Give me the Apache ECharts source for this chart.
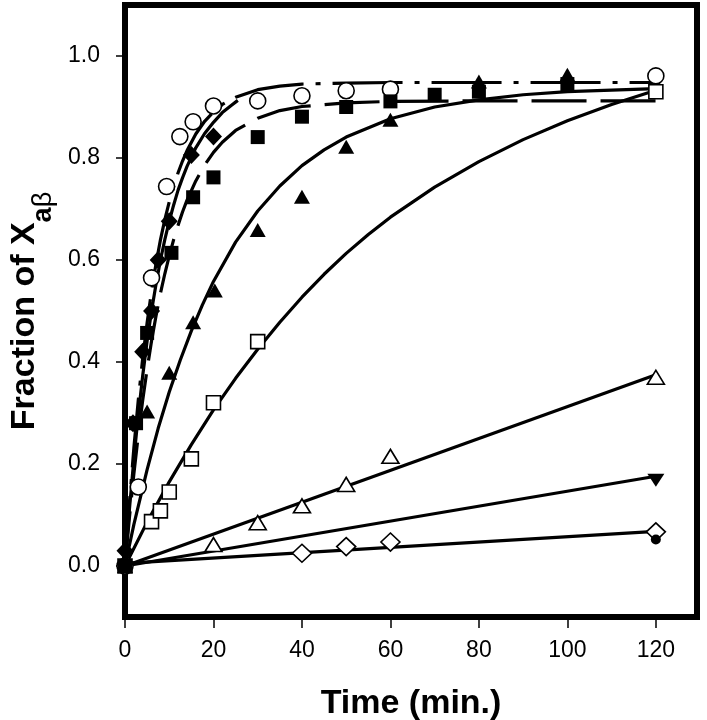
<!DOCTYPE html>
<html>
<head>
<meta charset="utf-8">
<script src="https://cdn.jsdelivr.net/npm/echarts@6/dist/echarts.min.js"></script>
<style>html,body{margin:0;padding:0;background:#fff}#c{width:707px;height:720px}</style>
</head>
<body>
<div id="c"></div>
<script>
// ---- measured points ----
const openCircleT = [0, 3, 6, 9.4, 12.4, 15.4, 20, 30, 40, 50, 60, 120];
const openCircleV = [0, 0.155, 0.565, 0.744, 0.842, 0.871, 0.902, 0.912, 0.922, 0.932, 0.935, 0.961];
const fDiamondT = [0, 1.8, 4, 6, 7.5, 10, 15, 20];
const fDiamondV = [0.03, 0.28, 0.42, 0.50, 0.60, 0.676, 0.806, 0.842];
const fSquareT = [0, 2.5, 5, 10.5, 15.4, 20, 30, 40, 50, 60, 70, 80, 100];
const fSquareV = [0, 0.28, 0.457, 0.614, 0.723, 0.762, 0.841, 0.881, 0.90, 0.911, 0.924, 0.93, 0.945];
const fTriT = [0, 5, 10, 15.4, 20.3, 30, 40, 50, 60, 80, 100];
const fTriV = [0, 0.303, 0.379, 0.478, 0.54, 0.659, 0.724, 0.822, 0.875, 0.95, 0.963];
const openSqT = [0, 6, 8, 10, 15, 20, 30, 120];
const openSqV = [0, 0.087, 0.108, 0.145, 0.21, 0.32, 0.44, 0.93];
const openTriT = [20, 30, 40, 50, 60, 120];
const openTriV = [0.042, 0.085, 0.118, 0.16, 0.215, 0.37];
const invTriT = [120];
const invTriV = [0.168];
const openDiaT = [40, 50, 60, 120];
const openDiaV = [0.025, 0.038, 0.047, 0.067];
const fCircleT = [0, 120];
const fCircleV = [0, 0.052];

// ---- fitted curves ----
const circleFitT = [0, 1, 2, 3, 4, 5, 6, 7, 8, 9, 10, 11, 12, 13, 14, 16, 18, 20, 22, 25, 30, 35, 40, 50, 60, 80, 100, 121];
const circleFitV = [0, 0.124, 0.231, 0.325, 0.407, 0.477, 0.539, 0.592, 0.639, 0.679, 0.714, 0.744, 0.771, 0.794, 0.814, 0.847, 0.872, 0.890, 0.905, 0.919, 0.934, 0.941, 0.945, 0.947, 0.948, 0.948, 0.948, 0.948];
const diamondFitT = [0, 1, 2, 3, 4, 5, 6, 7, 8, 9, 10, 11, 12, 13, 14, 16, 18, 20, 22, 24, 25.5];
const diamondFitV = [0, 0.111, 0.210, 0.296, 0.373, 0.441, 0.500, 0.552, 0.599, 0.640, 0.676, 0.708, 0.737, 0.761, 0.783, 0.820, 0.848, 0.870, 0.889, 0.903, 0.913];
const squareFitT = [0, 1, 2, 3, 4, 5, 6, 7, 8, 9, 10, 11, 12, 13, 14, 16, 18, 20, 22, 25, 30, 35, 40, 50, 60, 80, 100, 121];
const squareFitV = [0, 0.095, 0.180, 0.256, 0.325, 0.386, 0.441, 0.490, 0.534, 0.573, 0.608, 0.640, 0.668, 0.694, 0.717, 0.755, 0.786, 0.811, 0.831, 0.854, 0.878, 0.893, 0.901, 0.908, 0.911, 0.912, 0.912, 0.912];
const triFitT = [0, 2, 5, 7.5, 10, 12.5, 15, 17.5, 20, 25, 30, 35, 40, 45, 50, 60, 70, 80, 90, 100, 110, 120];
const triFitV = [0, 0.081, 0.189, 0.270, 0.341, 0.404, 0.461, 0.512, 0.558, 0.635, 0.696, 0.745, 0.785, 0.816, 0.841, 0.877, 0.900, 0.914, 0.924, 0.930, 0.933, 0.936];
const openSqFitT = [0, 5, 10, 15, 20, 25, 30, 35, 40, 45, 50, 55, 60, 70, 80, 90, 100, 110, 120];
const openSqFitV = [0, 0.086, 0.165, 0.238, 0.306, 0.368, 0.425, 0.478, 0.527, 0.572, 0.613, 0.650, 0.684, 0.743, 0.793, 0.836, 0.873, 0.905, 0.933];
const openTriFitT = [0, 120];
const openTriFitV = [0, 0.375];
const invTriFitT = [0, 120];
const invTriFitV = [0, 0.176];
const openDiaFitT = [0, 120];
const openDiaFitV = [0.005, 0.068];

// ---- ticks ----
const xTicks = [0, 20, 40, 60, 80, 100, 120];
const yTicks = [0, 0.2, 0.4, 0.6, 0.8, 1.0];

const pairs = (t, v) => t.map((x, i) => [x, v[i]]);
const FONT = 'Liberation Sans, Arial, sans-serif';

function fitLine(t, v, dash) {
  return {
    type: 'line', data: pairs(t, v), showSymbol: false, symbol: 'none',
    smooth: false, silent: true, z: 2,
    lineStyle: { color: '#000', width: 3.2, type: dash || 'solid', cap: 'butt', join: 'round', opacity: 1 }
  };
}
function pts(t, v, symbol, size, open, rotate) {
  return {
    type: 'scatter', data: pairs(t, v), symbol: symbol, symbolSize: size,
    symbolRotate: rotate || 0, silent: true, z: 5,
    itemStyle: open
      ? { color: '#fff', borderColor: '#000', borderWidth: 1.6, opacity: 1 }
      : { color: '#000', borderWidth: 0, opacity: 1 }
  };
}

const chart = echarts.init(document.getElementById('c'), null, { renderer: 'canvas' });
chart.setOption({
  animation: false,
  backgroundColor: '#fff',
  grid: { left: 125, right: 10, top: 5, bottom: 103, containLabel: false, outerBoundsMode: 'none', show: true, borderColor: '#000', borderWidth: 6, backgroundColor: 'transparent' },
  xAxis: {
    type: 'value', min: 0, max: 129.3,
    axisLine: { show: false, onZero: false },
    splitLine: { show: false },
    axisTick: { show: true, inside: false, length: 11, lineStyle: { color: '#000', width: 1.5 }, customValues: xTicks },
    axisLabel: { customValues: xTicks, margin: 22, fontSize: 23, color: '#000', fontFamily: FONT, formatter: v => String(v) },
    name: 'Time (min.)', nameLocation: 'middle', nameGap: 70,
    nameTextStyle: { fontSize: 34, fontWeight: 'bold', color: '#000', fontFamily: FONT }
  },
  yAxis: {
    type: 'value', min: -0.1, max: 1.1,
    axisLine: { show: false, onZero: false },
    splitLine: { show: false },
    axisTick: { show: true, inside: false, length: 9, lineStyle: { color: '#000', width: 1.5 }, customValues: yTicks },
    axisLabel: { customValues: yTicks, margin: 25, fontSize: 23, color: '#000', fontFamily: FONT, formatter: v => v.toFixed(1) },
    name: '{m|Fraction of X}{s|a}{g|β}', nameLocation: 'middle', nameRotate: 90, nameGap: 67,
    nameTextStyle: {
      color: '#000', fontFamily: FONT,
      rich: {
        m: { fontSize: 34, fontWeight: 'bold', lineHeight: 34, verticalAlign: 'top', fontFamily: FONT, color: '#000' },
        s: { fontSize: 27, fontWeight: 'bold', lineHeight: 50, verticalAlign: 'bottom', fontFamily: FONT, color: '#000' },
        g: { fontSize: 27, fontWeight: 'normal', lineHeight: 50, verticalAlign: 'bottom', fontFamily: FONT, color: '#000' }
      }
    }
  },
  series: [
    fitLine(openSqFitT, openSqFitV, 'solid'),
    fitLine(triFitT, triFitV, 'solid'),
    fitLine(squareFitT, squareFitV, [55, 14]),
    fitLine(circleFitT, circleFitV, [70, 12, 5, 12]),
    fitLine(diamondFitT, diamondFitV, 'solid'),
    fitLine(openTriFitT, openTriFitV, 'solid'),
    fitLine(invTriFitT, invTriFitV, 'solid'),
    fitLine(openDiaFitT, openDiaFitV, 'solid'),
    pts(openSqT, openSqV, 'rect', 14, true),
    pts(openTriT, openTriV, 'triangle', [17, 14], true),
    pts(openDiaT, openDiaV, 'diamond', [19, 18], true),
    pts(invTriT, invTriV, 'triangle', [17, 13], false, 180),
    pts(fCircleT, fCircleV, 'circle', 10, false),
    pts(openCircleT, openCircleV, 'circle', 16, true),
    pts(fTriT, fTriV, 'triangle', [16, 14], false),
    pts(fSquareT, fSquareV, 'rect', 14, false),
    pts(fDiamondT, fDiamondV, 'diamond', [17, 18], false)
  ]
});
</script>
</body>
</html>
